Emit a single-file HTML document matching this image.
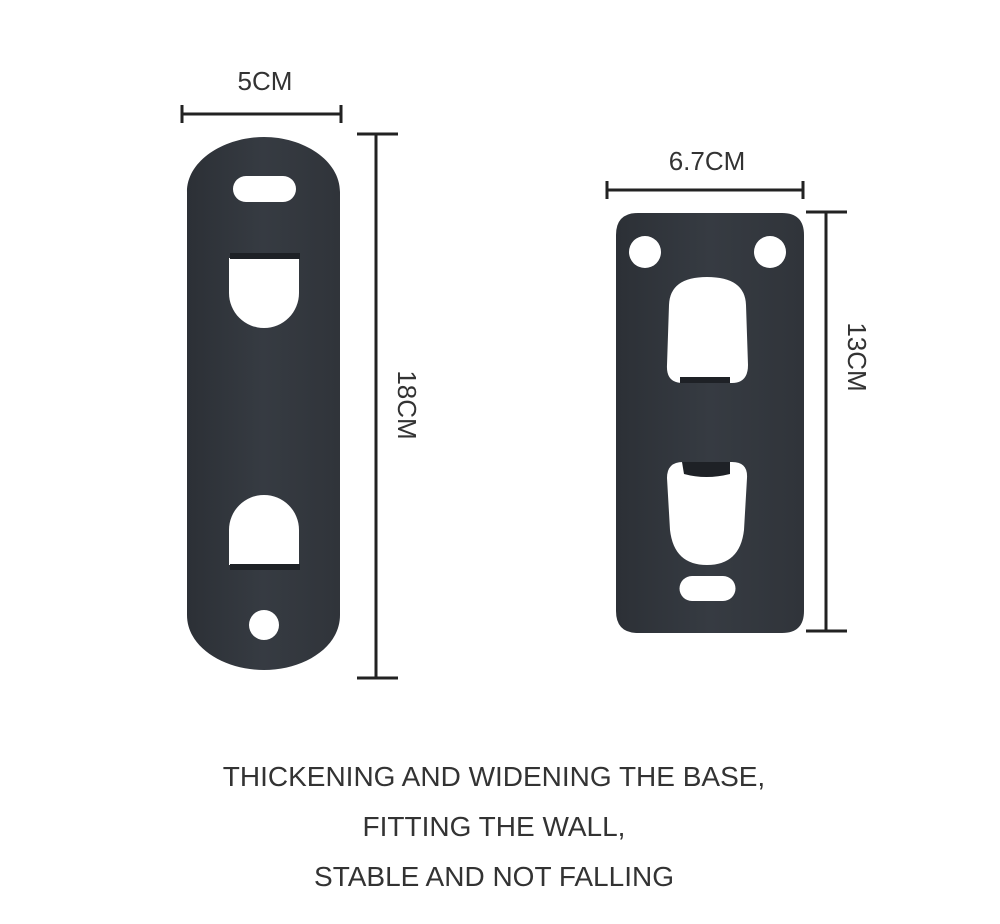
<!DOCTYPE html>
<html><head><meta charset="utf-8"><style>
html,body{margin:0;padding:0;background:#fff;}
svg{display:block;}
text{font-family:"Liberation Sans",sans-serif;fill:#333;}
</style></head><body>
<svg width="1000" height="924" viewBox="0 0 1000 924">
<defs>
<linearGradient id="g1" x1="0" x2="1"><stop offset="0" stop-color="#2c3036"/><stop offset="0.5" stop-color="#363b42"/><stop offset="1" stop-color="#30343a"/></linearGradient>
</defs>
<!-- left plate -->
<path fill-rule="evenodd" fill="url(#g1)" d="M187,192 C187,160 225,137 264,137 C303,137 340,160 340,192 L340,615 C340,648 303,670 264,670 C225,670 187,648 187,615 Z
M246,176 L283,176 A13,13 0 0 1 283,202 L246,202 A13,13 0 0 1 246,176 Z
M229,258 L299,258 L299,293 A35,35 0 0 1 229,293 Z
M229,565 L299,565 L299,530 A35,35 0 0 0 229,530 Z
M249,625 A15,15 0 1 0 279,625 A15,15 0 1 0 249,625 Z"/>
<rect x="230" y="253" width="70" height="6" fill="#1e2126"/>
<rect x="230" y="564" width="70" height="6" fill="#1e2126"/>
<!-- right plate -->
<path fill-rule="evenodd" fill="url(#g1)" d="M638,213 L782,213 Q804,213 804,235 L804,611 Q804,633 782,633 L638,633 Q616,633 616,611 L616,235 Q616,213 638,213 Z
M629,252 A16,16 0 1 0 661,252 A16,16 0 1 0 629,252 Z
M754,252 A16,16 0 1 0 786,252 A16,16 0 1 0 754,252 Z
M669,305 Q670,277 707,277 Q745,277 746,305 L748,365 Q748,383 732,383 L683,383 Q666,383 667,365 Z
M683,462 L732,462 Q748,462 747,478 L744,530 Q740,565 707,565 Q674,565 670,530 L667,478 Q667,462 683,462 Z
M692,576 L723,576 A12.5,12.5 0 0 1 723,601 L692,601 A12.5,12.5 0 0 1 692,576 Z"/>
<rect x="680" y="377" width="50" height="6" fill="#1e2126"/>
<path d="M682,462 L730,462 L730,474 Q706,480 684,474 Z" fill="#1e2126"/>
<!-- dimensions -->
<g stroke="#222" stroke-width="3" fill="none">
<line x1="181" y1="114" x2="342" y2="114"/><line x1="182" y1="105" x2="182" y2="123"/><line x1="341" y1="105" x2="341" y2="123"/>
<line x1="376" y1="133" x2="376" y2="679"/><line x1="357" y1="134" x2="398" y2="134"/><line x1="357" y1="678" x2="398" y2="678"/>
<line x1="606" y1="190" x2="804" y2="190"/><line x1="607" y1="181" x2="607" y2="199"/><line x1="803" y1="181" x2="803" y2="199"/>
<line x1="826" y1="211" x2="826" y2="632"/><line x1="806" y1="212" x2="847" y2="212"/><line x1="806" y1="631" x2="847" y2="631"/>
</g>
<text x="265" y="90" font-size="26" text-anchor="middle">5CM</text>
<text x="707" y="170" font-size="26" text-anchor="middle">6.7CM</text>
<text x="0" y="0" font-size="26" text-anchor="middle" transform="translate(398,405) rotate(90)">18CM</text>
<text x="0" y="0" font-size="26" text-anchor="middle" transform="translate(848,357) rotate(90)">13CM</text>
<text x="494" y="786" font-size="28" text-anchor="middle">THICKENING AND WIDENING THE BASE,</text>
<text x="494" y="836" font-size="28" text-anchor="middle">FITTING THE WALL,</text>
<text x="494" y="886" font-size="28" text-anchor="middle">STABLE AND NOT FALLING</text>
</svg>
</body></html>
